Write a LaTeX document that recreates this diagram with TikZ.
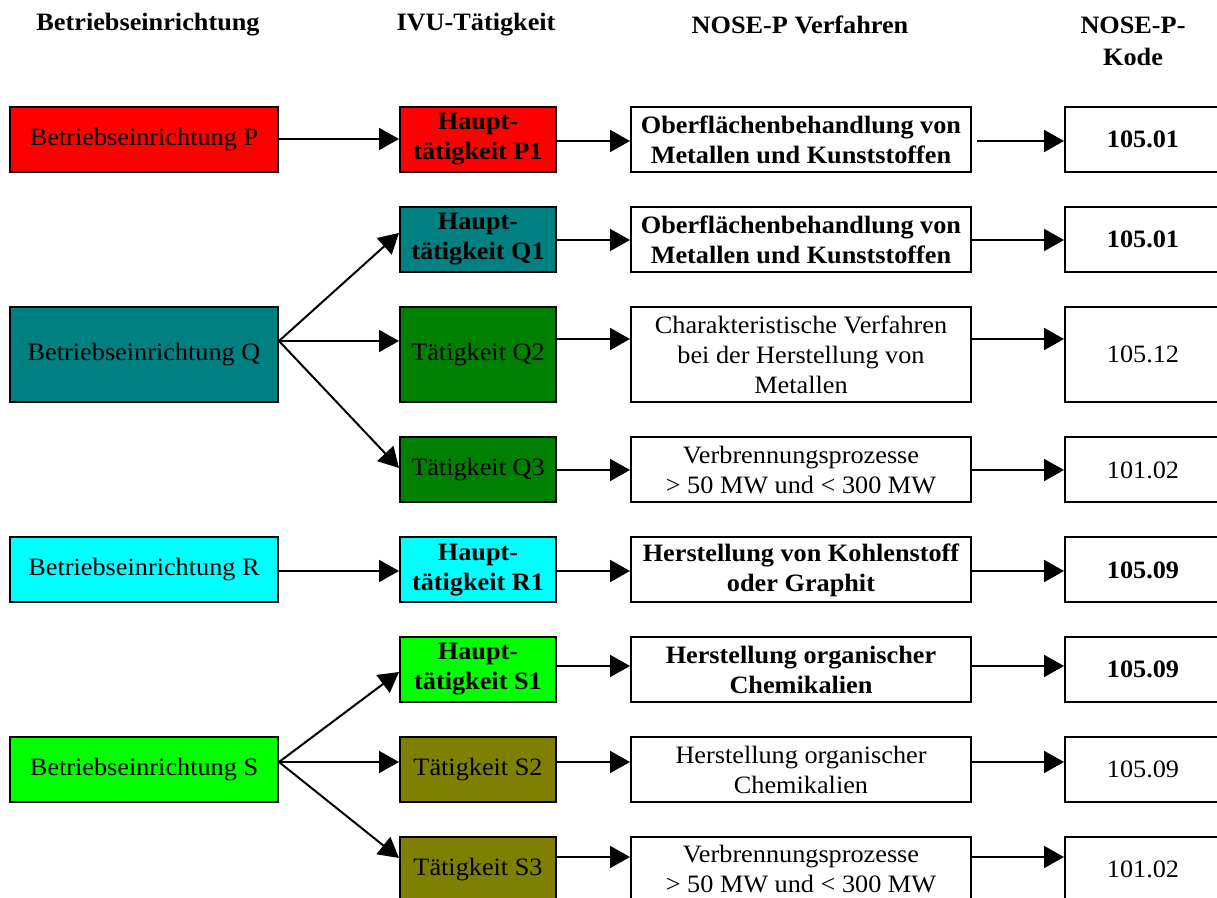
\documentclass[tikz,border=0pt]{standalone}
\usepackage{fontspec}
\setmainfont{Liberation Serif}[FakeStretch=1.05]
\usetikzlibrary{arrows.meta}

\definecolor{prot}{HTML}{FF0000}
\definecolor{qteal}{HTML}{008080}
\definecolor{qgruen}{HTML}{008000}
\definecolor{rcyan}{HTML}{00FFFF}
\definecolor{sgruen}{HTML}{00FF00}
\definecolor{soliv}{HTML}{808000}

\tikzset{
  box/.style={draw,line width=1pt,align=center,inner sep=1pt,
    font=\fontsize{12.5}{15}\selectfont,minimum height=32.5pt},
  fett/.style={font=\bfseries\fontsize{12.5}{15}\selectfont},
  anlage/.style={box,minimum width=134pt},
  taet/.style={box,minimum width=78pt},
  verf/.style={box,minimum width=170pt},
  kode/.style={box,minimum width=78pt},
  hoch/.style={minimum height=47.5pt},
  kopf/.style={align=center,font=\bfseries\fontsize{12.5}{16}\selectfont},
  arr/.style={line width=1pt,-{Triangle[length=10pt,width=11pt]}}
}

\begin{document}
\begin{tikzpicture}[x=0.5pt,y=-0.5pt]
      \useasboundingbox (0,0) rectangle (1217,898);

      \node [kopf] (h1) at (148,25) {Betriebseinrichtung};
      \node [kopf] (h2) at (476,25) {IVU-Tätigkeit};
      \node [kopf] (h3) at (800,25) {NOSE-P Verfahren};
      \node [kopf] (h4) at (1133,41) {NOSE-P-\\Kode};

      \node [anlage,fill=prot] (P) at (144,139.5) {Betriebseinrichtung P};
      \node [anlage,hoch,fill=qteal] (Q) at (144,354.5) {Betriebseinrichtung Q};
      \node [anlage,fill=rcyan] (R) at (144,570) {Betriebseinrichtung R};
      \node [anlage,fill=sgruen] (S) at (144,769.5) {Betriebseinrichtung S};

      \node [taet,fett,fill=prot] (P1) at (478,139.5) {Haupt-\\tätigkeit P1};
      \node [taet,fett,fill=qteal] (Q1) at (478,239.5) {Haupt-\\tätigkeit Q1};
      \node [taet,hoch,fill=qgruen] (Q2) at (478,354.5) {Tätigkeit Q2};
      \node [taet,fill=qgruen] (Q3) at (478,470) {Tätigkeit Q3};
      \node [taet,fett,fill=rcyan] (R1) at (478,570) {Haupt-\\tätigkeit R1};
      \node [taet,fett,fill=sgruen] (S1) at (478,669.5) {Haupt-\\tätigkeit S1};
      \node [taet,fill=soliv] (S2) at (478,769.5) {Tätigkeit S2};
      \node [taet,fill=soliv] (S3) at (478,869.5) {Tätigkeit S3};

      \node [verf,fett] (vP1) at (801,139.5) {Oberflächenbehandlung von\\Metallen und Kunststoffen};
      \node [verf,fett] (vQ1) at (801,239.5) {Oberflächenbehandlung von\\Metallen und Kunststoffen};
      \node [verf,hoch] (vQ2) at (801,354.5) {Charakteristische Verfahren\\bei der Herstellung von\\Metallen};
      \node [verf] (vQ3) at (801,470) {Verbrennungsprozesse\\> 50 MW und < 300 MW};
      \node [verf,fett] (vR1) at (801,570) {Herstellung von Kohlenstoff\\oder Graphit};
      \node [verf,fett] (vS1) at (801,669.5) {Herstellung organischer\\Chemikalien};
      \node [verf] (vS2) at (801,769.5) {Herstellung organischer\\Chemikalien};
      \node [verf] (vS3) at (801,869.5) {Verbrennungsprozesse\\> 50 MW und < 300 MW};

      \node [kode,fett] (kP1) at (1143,139.5) {105.01};
      \node [kode,fett] (kQ1) at (1143,239.5) {105.01};
      \node [kode,hoch] (kQ2) at (1143,354.5) {105.12};
      \node [kode] (kQ3) at (1143,470) {101.02};
      \node [kode,fett] (kR1) at (1143,570) {105.09};
      \node [kode,fett] (kS1) at (1143,669.5) {105.09};
      \node [kode] (kS2) at (1143,769.5) {105.09};
      \node [kode] (kS3) at (1143,869.5) {101.02};

      \draw [arr] (P.east |- 0,139) to (P1.west |- 0,139);
      \draw [arr] (P1.east |- 0,141) to (vP1.west |- 0,141);
      \draw [arr] ([xshift=2.5pt]vP1.east |- 0,141) to (kP1.west |- 0,141);

      \draw [arr] (Q.east |- 0,341) to (Q1.west |- 0,233);
      \draw [arr] (Q.east |- 0,341) to (Q2.west |- 0,341);
      \draw [arr] (Q.east |- 0,341) to (Q3.west |- 0,468);
      \draw [arr] (Q1.east |- 0,240) to (vQ1.west |- 0,240);
      \draw [arr] (vQ1.east |- 0,240) to (kQ1.west |- 0,240);
      \draw [arr] (Q2.east |- 0,339) to (vQ2.west |- 0,339);
      \draw [arr] (vQ2.east |- 0,339) to (kQ2.west |- 0,339);
      \draw [arr] (Q3.east |- 0,470) to (vQ3.west |- 0,470);
      \draw [arr] (vQ3.east |- 0,470) to (kQ3.west |- 0,470);

      \draw [arr] (R.east |- 0,571) to (R1.west |- 0,571);
      \draw [arr] (R1.east |- 0,571) to (vR1.west |- 0,571);
      \draw [arr] (vR1.east |- 0,571) to (kR1.west |- 0,571);

      \draw [arr] (S.east |- 0,762) to (S1.west |- 0,672);
      \draw [arr] (S.east |- 0,762) to (S2.west |- 0,762);
      \draw [arr] (S.east |- 0,762) to (S3.west |- 0,858);
      \draw [arr] (S1.east |- 0,666) to (vS1.west |- 0,666);
      \draw [arr] (vS1.east |- 0,666) to (kS1.west |- 0,666);
      \draw [arr] (S2.east |- 0,762) to (vS2.west |- 0,762);
      \draw [arr] (vS2.east |- 0,762) to (kS2.west |- 0,762);
      \draw [arr] (S3.east |- 0,857) to (vS3.west |- 0,857);
      \draw [arr] (vS3.east |- 0,857) to (kS3.west |- 0,857);

    \end{tikzpicture}
\end{document}
